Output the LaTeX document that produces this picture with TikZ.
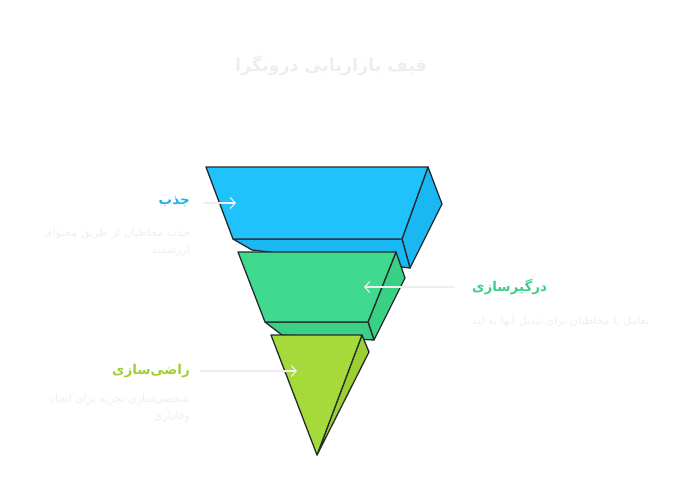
\documentclass[tikz,border=0pt]{standalone}
\usepackage{fontspec}
\usetikzlibrary{arrows.meta}
\newfontfamily\fafont[Script=Arabic]{DejaVu Sans}
\TeXXeTstate=1

\definecolor{attractblue}{HTML}{1FC2FB}
\definecolor{attractside}{HTML}{1AB8F2}
\definecolor{engagegreen}{HTML}{40DA8E}
\definecolor{engageside}{HTML}{3AD086}
\definecolor{delightlime}{HTML}{A6DA3A}
\definecolor{delightside}{HTML}{9CD032}
\definecolor{edgedark}{HTML}{222B2E}
\definecolor{faintgray}{HTML}{EEEEEE}

\begin{document}
\begin{tikzpicture}[x=1pt, y=-1pt,
    % Styles
    layer/.style={draw=edgedark, line width=1.3pt, line join=round},   % funnel faces
    stagelabel/.style={font=\fafont\bfseries\fontsize{13.5}{16}\selectfont, inner sep=0pt},
    stagenote/.style={font=\fafont\fontsize{11}{17}\selectfont, text=faintgray, inner sep=0pt},
    pointer/.style={-{Straight Barb[length=5pt,width=11pt]}, line width=1.1pt, draw=faintgray}   % label pointer
]
  \useasboundingbox (0,0) rectangle (684,503);

  % Title
  \node[font=\fafont\bfseries\fontsize{17.5}{21}\selectfont, text=faintgray] (title) at (331,66)
    {\beginR قیف بازاریابی درونگرا\endR};

  % Top layer: attract (blue block)
  \fill[attractside, layer] (428,167) -- (442,204) -- (410,268) -- (402,239) -- cycle;
  \fill[attractside, layer] (233,239) -- (402,239) -- (410,268) -- (252,250) -- cycle;
  \fill[attractblue, layer] (206,167) -- (428,167) -- (402,239) -- (233,239) -- cycle;

  % Middle layer: engage (green block)
  \fill[engageside, layer] (396,252) -- (405,278) -- (374,340) -- (368,322) -- cycle;
  \fill[engageside, layer] (265,322) -- (368,322) -- (374,340) -- (282,335) -- cycle;
  \fill[engagegreen, layer] (238,252) -- (396,252) -- (368,322) -- (265,322) -- cycle;

  % Bottom layer: delight (lime pyramid)
  \fill[delightside, layer] (362,335) -- (369,352) -- (317,455) -- cycle;
  \fill[delightlime, layer] (271,335) -- (362,335) -- (317,455) -- cycle;

  % Stage labels and notes
  \node[stagelabel, text=attractblue!92!black, anchor=east] (attract) at (190,202)
    {\beginR جذب\endR};
  \node[stagenote, anchor=north east, align=right] (attractnote) at (190,228)
    {\beginR جذب مخاطبان از طریق محتوای\endR\\ \beginR ارزشمند\endR};

  \node[stagelabel, text=engagegreen!95!black, anchor=west] (engage) at (472,287)
    {\beginR درگیرسازی\endR};
  \node[stagenote, anchor=north west] (engagenote) at (472,314)
    {\beginR تعامل با مخاطبان برای تبدیل آنها به لید\endR};

  \node[stagelabel, text=delightlime!95!black, anchor=east] (delight) at (190,371)
    {\beginR راضی‌سازی\endR};
  \node[stagenote, anchor=north east, align=right] (delightnote) at (190,394)
    {\beginR شخصی‌سازی تجربه برای ایجاد\endR\\ \beginR وفاداری\endR};

  % Pointers into the funnel
  \coordinate (attractfrom) at (204,203);
  \coordinate (attractto) at (236,203);
  \coordinate (engagefrom) at (455,287);
  \coordinate (engageto) at (364,287);
  \coordinate (delightfrom) at (200,371);
  \coordinate (delightto) at (297,371);
  \draw[pointer] (attractfrom) -- (attractto);
  \draw[pointer] (engagefrom) -- (engageto);
  \draw[pointer] (delightfrom) -- (delightto);

\end{tikzpicture}
\end{document}
